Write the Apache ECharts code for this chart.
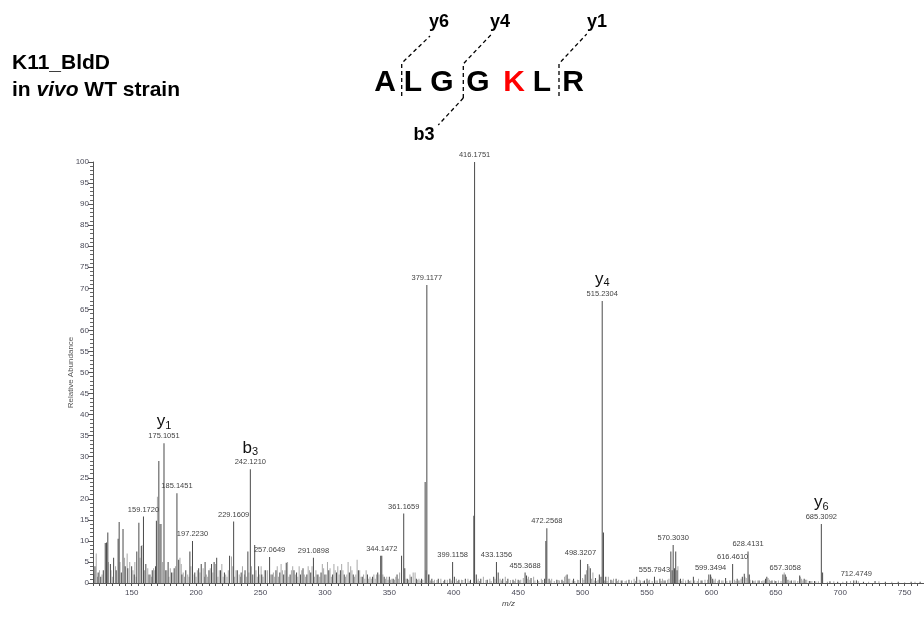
<!DOCTYPE html>
<html>
<head>
<meta charset="utf-8">
<script src="https://cdn.jsdelivr.net/npm/echarts@6/dist/echarts.min.js"></script>
<style>
  html, body { margin: 0; padding: 0; background: #fff; }
  #chart { width: 924px; height: 619px; }
</style>
</head>
<body>
<div id="chart"></div>
<script>
// darker sticks of the spectrum, [m/z, relative abundance]
const darkPeaks = [
  [120.5, 2], [121.5, 4], [124, 2.5], [126, 1.5], [128, 3], [129.5, 9.5], [130.5, 9.6], [131.5, 12],
  [133.5, 4.5], [136, 6], [138, 3], [139.5, 10.5], [140.3, 14.5], [142, 2.5], [143.3, 12.8], [145, 4],
  [147, 3.5], [150, 4], [152, 2], [154, 7.5], [155.6, 14.3], [157.5, 8.8], [159.1720, 15.8], [161, 4.5],
  [163.5, 2], [166, 3], [168.5, 4], [169.2, 14.8], [171.1, 29], [172.1, 14], [175.1051, 33.2], [176.5, 3],
  [178.3, 5], [181, 2.5], [183, 3.5], [185.1451, 21.3], [186.5, 5.5], [189, 2], [192, 3], [195.2, 7.5],
  [197.2230, 10], [199, 2.5], [202, 3.5], [204, 4.5], [207, 5], [210, 3], [212, 4.5], [214, 5],
  [216, 6], [219, 3], [222, 2.5], [226, 6.5], [229.1609, 14.6], [232, 3], [235, 2.5], [238, 3],
  [240.2, 7.5], [242.1210, 27], [244, 2], [245.5, 9], [248.5, 4], [251, 2], [254, 3], [257.0649, 6.2],
  [259, 2], [262, 3], [265, 2.5], [268, 2], [270, 4.8], [273, 2], [276, 3], [278, 2.5],
  [281, 2], [283, 3.5], [286, 2], [289, 2.5], [291.0898, 6], [294, 2], [297, 2.5], [300, 2],
  [303, 3], [306, 2], [309, 2.5], [312, 3], [315, 2], [319, 2.5], [322, 2], [326, 3],
  [329, 1.5], [333, 2], [337, 1.5], [341, 2.5], [343.3, 6.5], [344.1472, 6.5], [346, 1.5], [350, 1.5],
  [353, 1], [356, 2], [359.5, 6.5], [361.1659, 16.5], [362, 3.5], [364, 1], [367, 1.5], [371, 1],
  [375, 1], [377.8, 24], [379.1177, 70.8], [380.5, 2], [383, 1], [388, 1], [393, 0.8], [397, 1],
  [399.1158, 5], [400.5, 1.5], [404, 0.8], [409, 1], [413, 0.8], [415.6, 16], [416.1751, 100], [417.5, 2],
  [421, 1], [426, 0.8], [431, 1.5], [433.1356, 5], [434.5, 2.5], [438, 1], [442, 1], [446, 0.8],
  [450, 0.8], [455.3688, 2.5], [456.5, 1.8], [460, 1.2], [465, 0.8], [470.5, 1], [471.5, 10], [472.2568, 13],
  [474, 1], [480, 0.8], [484, 0.8], [488, 2], [493, 1], [498.3207, 5.5], [502, 2], [504, 4.5],
  [506, 3.5], [510, 1.2], [513, 2], [514.3, 1.5], [515.2304, 67], [516.2, 12], [518, 1.5], [522, 0.8],
  [526, 1], [530, 0.6], [536, 0.8], [542, 1.5], [548, 0.6], [550, 1], [555.7943, 1.5], [560, 1],
  [564, 0.6], [568.5, 7.5], [569.5, 3], [570.3030, 9], [571.3, 3.5], [572.3, 7.5], [573.3, 3], [576, 1],
  [582, 0.8], [586, 1.5], [592, 0.6], [598, 2], [599.3494, 2], [601, 1], [606, 0.8], [611, 1.2],
  [616.4610, 4.5], [620, 1], [624, 1.5], [625.5, 2.2], [628.4131, 7.5], [629.4, 2], [632, 0.6], [637, 0.6],
  [642, 1], [643, 1.5], [647, 0.6], [650, 0.5], [655.5, 2], [657.3058, 2], [658, 1.5], [662, 0.6],
  [668.5, 1.8], [672, 1], [676, 0.5], [680, 0.5], [685.3092, 14], [686.3, 2.5], [692, 0.4], [698, 0.3],
  [705, 0.4], [710.5, 0.6], [712.4749, 0.6], [718, 0.3], [727, 0.5], [735, 0.3], [745, 0.3], [755, 0.3], [762, 0.3]
];

// lighter sticks
const lightPeaks = [
  [122.5, 7], [123.5, 1.5], [125, 3], [127, 2], [132, 5], [134, 3], [135, 1.5], [137.5, 4], [141, 5], [144.5, 6],
  [146.5, 7], [148.5, 5], [151, 3], [152.5, 5], [153.5, 1.5], [156.5, 6], [158, 9], [160, 3], [162.5, 3.5],
  [164.5, 2], [165.5, 1.5], [167, 3.5], [168, 3], [170, 20.5], [173.2, 14], [174, 5], [177.3, 3], [179, 1.5], [180, 3.5],
  [182, 2.5], [184, 4], [187.5, 6], [188.5, 4.5], [190, 2.5], [191, 1.5], [193.5, 2], [194.5, 1.5], [196, 4], [198.5, 2],
  [200, 1.5], [201, 3], [203, 2.5], [205.5, 3.5], [206.5, 1.5], [208, 2], [209, 1.5], [211, 3.5], [213, 2.5], [215, 4.5], [217, 1.5], [218, 3],
  [220, 4.5], [221, 1.5], [223, 2], [224, 1.5], [225, 3], [227.5, 6.3], [228.5, 4], [230, 1.5], [231, 3], [233.5, 2], [234.5, 1.5], [236, 4],
  [237.5, 2], [239, 1.5], [241, 2.5], [243, 4], [246.5, 3], [247.5, 1.5], [249.5, 2], [250.5, 4], [252, 1.5], [253, 3], [255.5, 3],
  [258, 2], [260, 2.5], [261, 1.5], [263, 4], [264, 1.5], [266, 4.5], [267, 3], [269, 3], [271, 5], [272, 1.5], [274, 3],
  [275, 4], [277, 2], [279, 1.5], [280, 4], [282, 3], [284, 2], [285, 1.5], [287, 4], [288, 3], [290, 4],
  [292, 1.5], [293, 3], [295, 2], [296, 1.5], [298, 4.5], [299, 3.5], [301, 2], [302, 5], [304, 3.5], [305, 1.5], [307, 4.5],
  [308, 3], [310, 4], [311, 2], [313, 4.5], [314, 3], [316, 1.5], [317, 2], [318, 5], [320, 4],
  [321, 3], [323, 1.5], [324, 2], [325, 5.5], [327, 3], [328, 1.5], [330, 2], [331, 1], [332, 3], [334, 1], [335, 1.5], [336, 1], [338, 2],
  [339, 1], [340, 2], [342, 2], [345, 2], [347, 1], [348, 1.5], [349, 0.8], [351, 0.8], [352, 1], [354, 0.8], [355, 1.5], [357, 1], [358, 2.5], [363, 1],
  [365, 0.8], [366, 2], [368.5, 2.5], [370, 2.5], [372, 0.8], [373, 1], [374, 0.6], [376, 0.8], [378.5, 3], [381, 2], [382, 0.6],
  [384, 0.5], [385, 0.8], [387, 0.7], [390, 1], [392, 0.5], [395, 0.8], [398, 0.6], [402, 1], [403, 0.5], [406, 0.8],
  [407, 0.7], [411, 1], [412, 0.5], [418, 0.6], [419, 1], [420, 0.5], [423, 1.5], [425, 0.7], [428, 1], [429, 0.5],
  [432, 1], [436, 1], [437, 0.6], [440, 1.5], [441, 0.5], [444, 0.7], [447, 0.5], [448, 1], [451, 0.6], [452, 0.8],
  [454, 1.2], [457, 1], [458, 1.5], [459, 0.8], [462, 1.5], [463, 0.6], [466, 0.5], [468, 1], [469, 0.7], [475, 0.6],
  [476, 1], [478, 0.5], [481, 0.7], [482, 0.6], [485, 0.5], [486, 1.5], [487, 1.8], [489, 1], [490, 1], [492, 0.6],
  [494, 0.5], [496, 0.8], [497, 0.7], [500, 1.2], [501, 0.8], [503, 3], [505, 4], [507, 1], [508, 2.5], [509, 0.6],
  [511, 0.5], [512, 0.8], [517, 0.6], [519, 0.5], [520, 1.5], [523, 0.6], [524, 1], [527, 0.5], [528, 0.8], [531, 0.6],
  [533, 0.5], [534, 0.6], [538, 0.6], [540, 1], [541, 0.5], [544, 0.8], [545, 0.6], [547, 0.5], [551, 0.6], [552, 0.8],
  [554, 0.5], [557, 0.6], [558, 0.6], [561, 0.5], [562, 1], [563, 0.6], [566, 0.8], [567, 1], [574, 4], [575, 0.8],
  [577, 0.5], [578, 1], [580, 0.6], [583, 0.5], [584, 0.6], [587, 0.6], [589, 0.5], [590, 1], [593, 0.6], [595, 0.8],
  [597, 0.8], [600, 1.5], [602, 0.6], [603, 1], [605, 0.5], [608, 0.6], [609, 0.6], [612, 0.5], [614, 0.6], [615, 0.6],
  [618, 0.8], [619, 0.5], [621, 0.6], [622, 0.6], [623, 1], [626, 1.5], [627, 1.2], [630, 0.8], [633, 0.5], [634, 0.6],
  [636, 0.6], [639, 0.5], [640, 0.6], [641, 0.6], [644, 1.2], [645, 0.8], [646, 0.5], [649, 0.6], [652, 0.6], [654, 0.5],
  [656.5, 2.5], [659, 0.8], [660, 0.8], [661, 0.5], [664, 0.6], [665, 0.6], [667, 0.5], [669, 1.5], [670, 1], [671, 0.6],
  [673, 0.8], [674, 0.8], [677, 0.5], [678, 0.5], [681, 0.4], [683, 0.4], [690, 0.3], [695, 0.4], [702, 0.3], [708, 0.5],
  [714, 0.4], [722, 0.3], [730, 0.4], [740, 0.3], [750, 0.2], [758, 0.3]
];

// peaks carrying an m/z label
const labelMz = [159.1720, 175.1051, 185.1451, 197.2230, 229.1609, 242.1210, 257.0649, 291.0898,
  344.1472, 361.1659, 379.1177, 399.1158, 416.1751, 433.1356, 455.3688, 472.2568, 498.3207,
  515.2304, 555.7943, 570.3030, 599.3494, 616.4610, 628.4131, 657.3058, 685.3092, 712.4749];

// fragment ion assignments
const ionMz = [175.1051, 242.1210, 515.2304, 685.3092];
const ionType = ['y', 'b', 'y', 'y'];
const ionIndex = ['1', '3', '4', '6'];

const yTicks = [0, 5, 10, 15, 20, 25, 30, 35, 40, 45, 50, 55, 60, 65, 70, 75, 80, 85, 90, 95, 100];
const xLabels = [150, 200, 250, 300, 350, 400, 450, 500, 550, 600, 650, 700, 750];
const xTicks = [];
for (let v = 120; v <= 765; v += 5) xTicks.push(v);

const FONT = 'Liberation Sans, Arial, sans-serif';

const chart = echarts.init(document.getElementById('chart'));

const darkData = darkPeaks.map(p => {
  const li = labelMz.indexOf(p[0]);
  if (li < 0) return p;
  const ii = ionMz.indexOf(p[0]);
  const mzText = p[0].toFixed(4);
  return {
    value: p,
    label: {
      show: true,
      position: 'top',
      distance: 2,
      formatter: ii < 0
        ? '{mz|' + mzText + '}'
        : '{ion|' + ionType[ii] + '}{sub|' + ionIndex[ii] + '}\n{mz|' + mzText + '}'
    }
  };
});

// peptide header letters
const seqLetters = ['A', 'L', 'G', 'G', 'K', 'L', 'R'];
const seqX = [385, 413, 442, 478, 514, 542, 573];

const dash = { stroke: '#000', lineWidth: 1.3, lineDash: [4, 3], fill: null };

const graphics = [
  {
    type: 'text', x: 12, y: 63,
    style: { text: 'K11_BldD', font: 'bold 21px ' + FONT, fill: '#000', textVerticalAlign: 'middle', verticalAlign: 'middle' }
  },
  {
    type: 'text', x: 12, y: 90,
    style: {
      text: '{n|in }{i|vivo}{n| WT strain}',
      textVerticalAlign: 'middle', verticalAlign: 'middle',
      rich: {
        n: { font: 'bold 21px ' + FONT, fill: '#000' },
        i: { font: 'italic bold 21px ' + FONT, fill: '#000' }
      }
    }
  },
  { type: 'polyline', shape: { points: [[401.7, 96], [401.7, 64], [404, 61], [430, 36]] }, style: dash },
  { type: 'polyline', shape: { points: [[463.3, 98], [463.3, 64], [466, 61], [491.7, 34]] }, style: dash },
  { type: 'polyline', shape: { points: [[463.3, 98], [438.3, 125]] }, style: dash },
  { type: 'polyline', shape: { points: [[559, 96], [559, 64], [561.5, 61], [586.7, 34]] }, style: dash },
  { type: 'text', x: 439, y: 22, style: { text: 'y6', font: 'bold 18px ' + FONT, fill: '#000', textAlign: 'center', align: 'center', textVerticalAlign: 'middle', verticalAlign: 'middle' } },
  { type: 'text', x: 500, y: 22, style: { text: 'y4', font: 'bold 18px ' + FONT, fill: '#000', textAlign: 'center', align: 'center', textVerticalAlign: 'middle', verticalAlign: 'middle' } },
  { type: 'text', x: 597, y: 22, style: { text: 'y1', font: 'bold 18px ' + FONT, fill: '#000', textAlign: 'center', align: 'center', textVerticalAlign: 'middle', verticalAlign: 'middle' } },
  { type: 'text', x: 424, y: 135, style: { text: 'b3', font: 'bold 18px ' + FONT, fill: '#000', textAlign: 'center', align: 'center', textVerticalAlign: 'middle', verticalAlign: 'middle' } }
].concat(seqLetters.map((s, i) => ({
  type: 'text', x: seqX[i], y: 83,
  style: {
    text: s, font: 'bold 30px ' + FONT, fill: s === 'K' ? '#ff0000' : '#000',
    textAlign: 'center', align: 'center', textVerticalAlign: 'middle', verticalAlign: 'middle'
  }
})));

chart.setOption({
  animation: false,
  backgroundColor: '#fff',
  textStyle: { fontFamily: FONT },
  grid: { left: 93, right: 0, top: 162, bottom: 36 },
  xAxis: {
    type: 'value',
    min: 120,
    max: 765,
    name: 'm/z',
    nameLocation: 'middle',
    nameGap: 17,
    nameMoveOverlap: false,
    nameTextStyle: { fontSize: 8, color: '#444', fontStyle: 'italic' },
    axisLine: { lineStyle: { color: '#555', width: 1 } },
    axisTick: { show: true, customValues: xTicks, length: 3, lineStyle: { color: '#555' } },
    axisLabel: { customValues: xLabels, fontSize: 8, color: '#4a4a58', margin: 6 },
    splitLine: { show: false }
  },
  yAxis: {
    type: 'value',
    min: 0,
    max: 100,
    interval: 5,
    name: 'Relative Abundance',
    nameLocation: 'middle',
    nameGap: 18,
    nameMoveOverlap: false,
    nameTextStyle: { fontSize: 8, color: '#555' },
    axisLine: { show: true, lineStyle: { color: '#555', width: 1 } },
    axisTick: { show: true, length: 5, lineStyle: { color: '#555' } },
    minorTick: { show: true, splitNumber: 5, length: 3, lineStyle: { color: '#666' } },
    axisLabel: { fontSize: 8, color: '#4a4a58', margin: 4, customValues: yTicks },
    splitLine: { show: false }
  },
  series: [
    {
      type: 'bar',
      name: 'light',
      barWidth: 1,
      barGap: '-100%',
      itemStyle: { color: '#a8a8a8' },
      data: lightPeaks
    },
    {
      type: 'bar',
      name: 'dark',
      barWidth: 1,
      barGap: '-100%',
      itemStyle: { color: '#4a4a4a' },
      label: {
        rich: {
          mz: { fontSize: 7.5, color: '#444', lineHeight: 10, fontFamily: FONT },
          ion: { fontSize: 17, color: '#111', lineHeight: 19, fontFamily: FONT },
          sub: { fontSize: 11, color: '#111', lineHeight: 4, verticalAlign: 'bottom', fontFamily: FONT }
        }
      },
      data: darkData
    }
  ],
  graphic: graphics
});
</script>
</body>
</html>
